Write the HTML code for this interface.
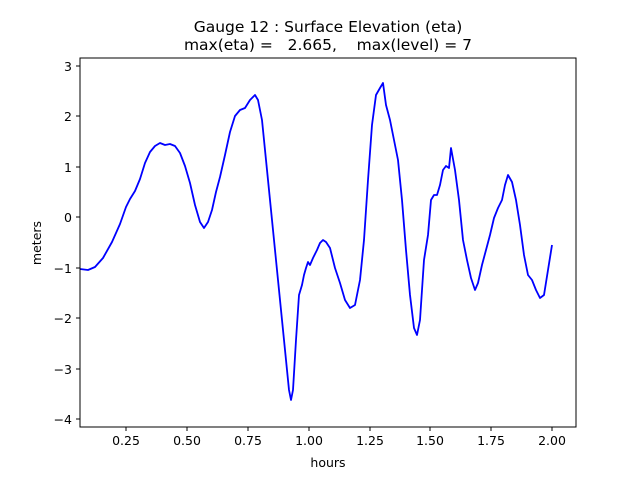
<!DOCTYPE html>
<html><head><style>body{margin:0;background:#fff}</style></head><body>
<svg width="640" height="480" xmlns="http://www.w3.org/2000/svg" font-family="DejaVu Sans, sans-serif">
<rect width="640" height="480" fill="#fff"/>
<text x="328" y="32" font-size="15.5" text-anchor="middle">Gauge 12 : Surface Elevation (eta)</text>
<text x="328" y="50" font-size="15.5" text-anchor="middle" xml:space="preserve">max(eta) =   2.665,    max(level) = 7</text>
<polyline fill="none" stroke="#0000ff" stroke-width="1.8" stroke-linejoin="round" points="80,269 88,270 95,267 103,258 112,242 120,224 126,207 130,199 135,191 140,179 145,163 150,152 155,146 160,143 165,145 170,144 175,146 180,153 185,166 190,183 195,205 200,222 204,228 208,222 212,210 216,192 220,177 225,155 230,132 235,116 240,110 245,108 250,100 255,95 258,100 262,120 266,160 270,200 274,240 278,280 282,320 286,360 289,390 291,400 293,390 296,340 299,295 302,285 304,275 306,268 308,262 310,265 313,258 317,250 320,243 323,240 326,242 330,248 335,268 340,283 345,300 350,308 355,305 360,280 364,240 368,180 372,125 376,95 380,88 383,83 386,105 390,120 394,140 398,160 402,200 406,250 410,295 414,328 417,335 420,320 424,260 428,235 431,200 434,195 437,195 440,185 443,170 446,166 449,168 451,148 455,170 459,200 463,240 467,260 471,278 475,290 478,283 482,265 486,250 490,235 494,218 498,208 502,200 505,185 508,175 512,182 516,200 520,225 524,255 528,275 532,280 536,290 540,298 544,295 548,270 552,245"/>
<rect x="80" y="58" width="496" height="369" fill="none" stroke="#000" stroke-width="1"/>
<g stroke="#000">
<line x1="126" y1="427" x2="126" y2="431"/><line x1="187" y1="427" x2="187" y2="431"/><line x1="248" y1="427" x2="248" y2="431"/><line x1="309" y1="427" x2="309" y2="431"/><line x1="370" y1="427" x2="370" y2="431"/><line x1="430" y1="427" x2="430" y2="431"/><line x1="491" y1="427" x2="491" y2="431"/><line x1="552" y1="427" x2="552" y2="431"/>
<line x1="76" y1="66" x2="80" y2="66"/><line x1="76" y1="116" x2="80" y2="116"/><line x1="76" y1="167" x2="80" y2="167"/><line x1="76" y1="217" x2="80" y2="217"/><line x1="76" y1="268" x2="80" y2="268"/><line x1="76" y1="318" x2="80" y2="318"/><line x1="76" y1="369" x2="80" y2="369"/><line x1="76" y1="419" x2="80" y2="419"/>
</g>
<g font-size="12.5" text-anchor="middle">
<text x="126" y="445">0.25</text><text x="187" y="445">0.50</text><text x="248" y="445">0.75</text><text x="309" y="445">1.00</text><text x="370" y="445">1.25</text><text x="430" y="445">1.50</text><text x="491" y="445">1.75</text><text x="552" y="445">2.00</text>
<text x="328" y="467">hours</text>
</g>
<g font-size="12.5" text-anchor="end">
<text x="72" y="71">3</text><text x="72" y="121">2</text><text x="72" y="172">1</text><text x="72" y="222">0</text><text x="72" y="273">−1</text><text x="72" y="323">−2</text><text x="72" y="374">−3</text><text x="72" y="424">−4</text>
</g>
<text transform="translate(41,243) rotate(-90)" font-size="12.5" text-anchor="middle">meters</text>
</svg>
</body></html>
